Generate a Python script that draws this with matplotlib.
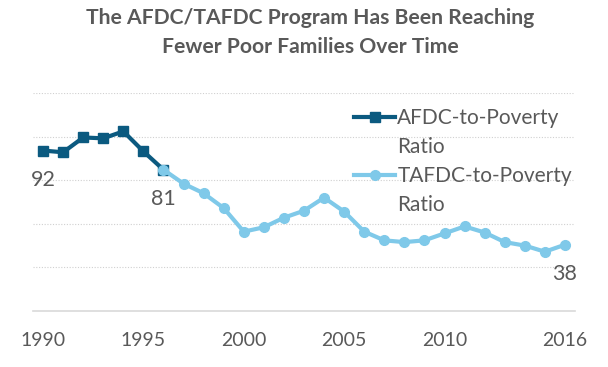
import matplotlib.pyplot as plt
from matplotlib.lines import Line2D

plt.rcParams['font.family'] = ['Lato', 'DejaVu Sans']

### DATA ###
afdc_years = [1990, 1991, 1992, 1993, 1994, 1995, 1996]
afdc_ratio = [92, 91, 99.5, 99, 103, 91.5, 81]

tafdc_years = list(range(1996, 2017))
tafdc_ratio = [81, 73, 67.5, 59, 45.5, 48, 53.5, 57.5, 65, 57, 45.5, 40.5,
               39.5, 40.5, 44.5, 48.5, 45, 39.5, 37.5, 34, 38]

tick_years = [1990, 1995, 2000, 2005, 2010, 2016]
labelled = [(1990, 92, '92'), (1996, 81, '81'), (2016, 38, '38')]

dark = '#0B5A80'
light = '#7FC9E9'
grey = '#595959'

fig = plt.figure(figsize=(6.08, 3.67), dpi=100)
ax = fig.add_axes([0.0543, 0.1526, 0.8914, 0.594])

ax.plot(afdc_years, afdc_ratio, color=dark, lw=3, marker='s', ms=7.5,
        zorder=3)
ax.plot(tafdc_years, tafdc_ratio, color=light, lw=3, marker='o', ms=7,
        zorder=4)

for x, y, s in labelled:
    ax.annotate(s, (x, y), xytext=(0, -21), textcoords='offset points',
                ha='center', va='center', fontsize=15.5, color=grey)

ax.set_xlim(1989.5, 2016.5)
ax.set_ylim(0, 125)
ax.set_yticks([25, 50, 75, 100, 125])
ax.set_yticklabels([])
ax.yaxis.grid(True, color='#D0D0D0', lw=0.8, linestyle=(0, (1, 1.5)))
ax.tick_params(axis='y', length=0)
ax.set_xticks(tick_years)
ax.set_xticklabels([str(t) for t in tick_years])
ax.tick_params(axis='x', length=0, pad=15, labelsize=14, labelcolor=grey)
for side in ['top', 'right', 'left']:
    ax.spines[side].set_visible(False)
ax.spines['bottom'].set_color('#D9D9D9')
ax.spines['bottom'].set_linewidth(1.2)

fig.text(0.51, 0.95, 'The AFDC/TAFDC Program Has Been Reaching',
         ha='center', va='center', fontsize=15.2, fontweight='bold', color=grey)
fig.text(0.51, 0.872, 'Fewer Poor Families Over Time',
         ha='center', va='center', fontsize=15.2, fontweight='bold', color=grey)

### LEGEND ###
blank = Line2D([], [], color='none')
handles = [Line2D([], [], color=dark, lw=3, marker='s', ms=7.5), blank,
           Line2D([], [], color=light, lw=3, marker='o', ms=7), blank]
labels = ['AFDC-to-Poverty', 'Ratio', 'TAFDC-to-Poverty', 'Ratio']
leg = fig.legend(handles, labels, loc='upper left',
                 bbox_to_anchor=(0.568, 0.728), frameon=False, fontsize=15,
                 handlelength=2.0, handletextpad=0.1, labelspacing=0.43,
                 borderaxespad=0)
for t in leg.get_texts():
    t.set_color(grey)

fig.savefig('out.png', dpi=100)
